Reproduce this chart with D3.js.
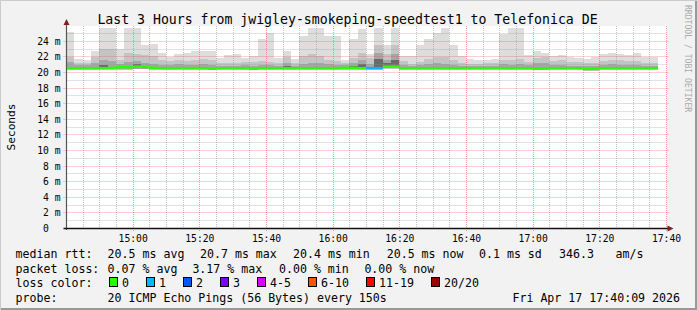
<!DOCTYPE html>
<html>
<head>
<meta charset="utf-8">
<script src="https://cdn.jsdelivr.net/npm/d3@7"></script>
<style>
  body { margin: 0; background: #f2f2f2; }
  svg { display: block; }
  text { font-family: "DejaVu Sans Mono", monospace; white-space: pre; fill: #000; }
</style>
</head>
<body>
<svg id="chart"></svg>
<script>
// smoke bands per 150s step (values in ms)
const maxV = [25.1,21.7,21.5,22.7,25.7,25.7,23.0,25.7,25.7,23.5,
  23.6,22.5,21.9,22.3,22.5,22.7,22.7,22.7,21.8,22.2,
  22.3,21.8,22.0,24.2,25.0,21.8,22.7,21.7,24.6,25.6,
  25.6,24.6,24.6,21.6,24.2,25.5,22.3,25.7,23.5,25.7,
  22.0,22.1,23.4,24.2,25.0,25.7,23.4,22.1,21.7,21.6,
  21.6,21.7,24.9,25.7,25.6,22.2,22.7,22.5,22.0,22.2,
  21.9,21.8,21.7,21.9,22.3,22.5,22.3,22.2,22.5,21.9,21.9];
const upV = [21.9,21.2,21.2,21.9,23.0,22.9,21.6,22.5,22.3,22.2,
  22.0,21.5,21.4,21.6,21.4,21.6,21.7,21.5,21.2,21.1,
  21.2,21.3,21.3,21.4,21.3,21.2,21.9,21.2,22.0,22.3,
  22.0,21.6,21.4,21.2,21.8,22.4,21.8,23.5,22.3,23.4,
  21.4,21.0,21.3,21.7,21.9,21.9,21.5,21.2,21.0,21.0,
  21.2,21.2,21.6,21.5,21.7,21.3,21.8,21.9,21.4,21.5,
  21.3,21.3,21.2,21.2,21.4,21.6,21.5,21.4,21.4,21.2,21.2];
const midV = [21.3,20.9,20.9,21.1,21.6,21.4,21.0,21.3,21.4,21.2,
  21.0,20.9,20.9,21.0,20.9,20.9,21.0,20.9,20.8,20.8,
  20.8,20.9,20.8,20.9,20.9,20.8,21.1,20.8,21.0,21.2,
  21.1,21.0,20.9,20.9,21.2,21.6,21.0,22.4,21.5,22.3,
  20.9,20.8,20.9,21.0,21.1,21.0,20.9,20.8,20.8,20.8,
  20.8,20.8,21.0,20.9,21.0,20.9,21.1,21.2,20.9,20.9,
  20.8,20.8,20.8,20.8,20.9,21.0,20.9,20.9,20.9,20.8,20.8];
const coreV = [0,0,0,0,20.9,0,0,0,21.0,0,
  0,0,0,0,0,0,0,0,0,0,
  0,0,0,0,0,0,20.8,0,0,0,
  0,0,0,0,20.8,21.0,0,21.7,21.1,21.6,
  0,0,0,0,0,0,0,0,0,0,
  0,0,0,0,0,0,0,0,0,0,
  0,0,0,0,0,0,0,0,0,0,0];
const medV = [20.5,20.5,20.5,20.5,20.5,20.55,20.6,20.6,20.7,20.65,
  20.55,20.5,20.5,20.5,20.5,20.5,20.5,20.45,20.5,20.5,
  20.5,20.5,20.45,20.5,20.5,20.5,20.5,20.5,20.5,20.5,
  20.5,20.5,20.5,20.55,20.55,20.5,20.5,20.5,20.7,20.7,
  20.5,20.5,20.5,20.5,20.5,20.5,20.5,20.5,20.5,20.5,
  20.5,20.5,20.5,20.5,20.5,20.5,20.45,20.45,20.5,20.5,
  20.5,20.5,20.4,20.4,20.5,20.5,20.5,20.5,20.5,20.5,20.5];
const minV = [20.25,20.25,20.25,20.25,20.25,20.25,20.3,20.3,20.35,20.35,
  20.25,20.25,20.25,20.25,20.25,20.25,20.25,20.2,20.25,20.25,
  20.25,20.25,20.2,20.25,20.25,20.25,20.25,20.25,20.25,20.25,
  20.25,20.25,20.25,20.3,20.3,20.25,20.25,20.25,20.4,20.4,
  20.25,20.25,20.25,20.25,20.25,20.25,20.25,20.25,20.25,20.25,
  20.25,20.25,20.25,20.25,20.25,20.25,20.2,20.2,20.25,20.25,
  20.25,20.25,20.15,20.15,20.25,20.25,20.25,20.25,20.25,20.25,20.25];
// pings lost (of 20) per step
const lossV = [0,0,0,0,0,0,0,0,0,0, 0,0,0,0,0,0,0,0,0,0,
  0,0,0,0,0,0,0,0,0,0, 0,0,0,0,0,0,1,1,0,0,
  0,0,0,0,0,0,0,0,0,0, 0,0,0,0,0,0,0,0,0,0,
  0,0,0,0,0,0,0,0,0,0,0];

const lossLabels = ["0", "1", "2", "3", "4-5", "6-10", "11-19", "20/20"];
const lossUpper = [0, 1, 2, 3, 5, 10, 19, 20];
const lossColors = ["#26ff00", "#00b8ff", "#0059ff", "#7e00ff", "#dd00ff", "#ff5500", "#ff0000", "#a10000"];

const rttStats = ["median rtt:", "20.5 ms avg", "20.7 ms max", "20.4 ms min", "20.5 ms now", "0.1 ms sd", "346.3", "am/s"];
const lossStats = ["packet loss:", "0.07 % avg", "3.17 % max", "0.00 % min", "0.00 % now"];
const probeText = ["probe:", "20 ICMP Echo Pings (56 Bytes) every 150s"];
const stampText = "Fri Apr 17 17:40:09 2026";
const titleText = "Last 3 Hours from jwigley-smokeping-speedtest1 to Telefonica DE";

const W = 697, H = 310;
const margin = {top: 26, left: 66.5, right: 30.5, bottom: 82};
const tStart = new Date(2026, 3, 17, 14, 40, 9);
const tEnd = new Date(2026, 3, 17, 17, 40, 9);
const firstStep = new Date(2026, 3, 17, 14, 40, 0);
const step = 150; // seconds

const svg = d3.select("#chart").attr("width", W).attr("height", H);

// frame
svg.append("rect").attr("width", W).attr("height", H).attr("fill", "#f2f2f2");
svg.append("path").attr("d", `M0.5,${H} V0.5 H${W}`).attr("stroke", "#cbcbcb").attr("fill", "none");
svg.append("path").attr("d", `M1,${H - 1} H${W - 1} V1`).attr("stroke", "#999").attr("stroke-width", 2).attr("fill", "none");

const x = d3.scaleTime().domain([tStart, tEnd]).range([margin.left, W - margin.right]);
const y = d3.scaleLinear().domain([0, 25.9]).range([H - margin.bottom, margin.top]);

svg.append("rect")
  .attr("x", x.range()[0]).attr("y", y.range()[1])
  .attr("width", x.range()[1] - x.range()[0]).attr("height", y.range()[0] - y.range()[1])
  .attr("fill", "#fff");

const cols = maxV.map((m, i) => {
  const t0 = new Date(+firstStep + i * step * 1000);
  const t1 = new Date(+t0 + step * 1000);
  return {x0: Math.max(x(t0), x.range()[0]), x1: x(t1), max: m, up: upV[i], mid: midV[i],
    core: coreV[i], med: medV[i], min: minV[i], loss: lossV[i]};
});

const plot = svg.append("g");
function band(lo, hi, color) {
  plot.append("g").selectAll("rect")
    .data(cols.filter(d => hi(d) > lo(d)))
    .join("rect")
    .attr("x", d => d.x0)
    .attr("width", d => d.x1 - d.x0)
    .attr("y", d => y(hi(d)))
    .attr("height", d => y(lo(d)) - y(hi(d)))
    .attr("fill", color)
    .attr("shape-rendering", "crispEdges");
}
band(d => d.min, d => d.max, "#dddddd");
band(d => d.min, d => d.up, "#c4c4c4");
band(d => d.min + 0.1, d => d.mid, "#a6a6a6");
band(d => d.med, d => d.core, "#6a6a6a");

// grid
const grid = svg.append("g");
const minorT = d3.timeMinute.every(5).range(tStart, tEnd).filter(t => t.getMinutes() % 20 !== 0);
const majorT = d3.timeMinute.every(20).range(tStart, d3.timeSecond.offset(tEnd, 1));
grid.selectAll(".xmin").data(minorT).join("line")
  .attr("x1", d => Math.round(x(d)) + 0.5).attr("x2", d => Math.round(x(d)) + 0.5)
  .attr("y1", y.range()[1]).attr("y2", y.range()[0])
  .attr("stroke", "rgba(150,150,150,0.55)").attr("stroke-dasharray", "1,1");
const minorY = d3.range(1, 26, 1).filter(v => v % 2 !== 0);
grid.selectAll(".ymin").data(minorY).join("line")
  .attr("x1", x.range()[0]).attr("x2", x.range()[1])
  .attr("y1", d => Math.round(y(d)) + 0.5).attr("y2", d => Math.round(y(d)) + 0.5)
  .attr("stroke", "rgba(150,150,150,0.55)").attr("stroke-dasharray", "1,1");
grid.selectAll(".xmaj").data(majorT).join("line")
  .attr("x1", d => Math.round(x(d)) + 0.5).attr("x2", d => Math.round(x(d)) + 0.5)
  .attr("y1", y.range()[1]).attr("y2", y.range()[0] + 3)
  .attr("stroke", "rgba(235,70,70,0.5)").attr("stroke-dasharray", "1,1");
const majorY = d3.range(2, 25, 2);
grid.selectAll(".ymaj").data(majorY).join("line")
  .attr("x1", x.range()[0] - 3).attr("x2", x.range()[1] + 2)
  .attr("y1", d => Math.round(y(d)) + 0.5).attr("y2", d => Math.round(y(d)) + 0.5)
  .attr("stroke", "rgba(235,70,70,0.5)").attr("stroke-dasharray", "1,1");

// median line coloured by loss
const lossColor = l => lossColors[lossUpper.findIndex(u => l <= u)];
svg.append("g").selectAll("rect").data(cols).join("rect")
  .attr("x", d => d.x0).attr("width", d => d.x1 - d.x0)
  .attr("y", d => y(d.med) - 1.2).attr("height", 2.4)
  .attr("fill", d => lossColor(d.loss));

// axes
const xAxis = d3.axisBottom(x).tickValues(majorT).tickFormat(d3.timeFormat("%H:%M")).tickSize(0).tickPadding(8);
const xg = svg.append("g").attr("transform", `translate(0,${y.range()[0]})`).call(xAxis);
xg.select(".domain").remove();
xg.selectAll("text").attr("font-size", 9.7).attr("font-family", "DejaVu Sans Mono").attr("dy", "0.6em");

const yAxis = d3.axisLeft(y).tickValues(d3.range(0, 25, 2)).tickFormat(v => v === 0 ? "0  " : `${v} m`).tickSize(0).tickPadding(6);
const yg = svg.append("g").attr("transform", `translate(${x.range()[0]},0)`).call(yAxis);
yg.select(".domain").remove();
yg.selectAll("text").attr("font-size", 9.7).attr("font-family", "DejaVu Sans Mono").attr("dy", "0.35em");

svg.append("line").attr("x1", x.range()[0]).attr("x2", x.range()[0])
  .attr("y1", y.range()[0] + 2).attr("y2", y.range()[1] - 4).attr("stroke", "#555").attr("stroke-width", 1.2);
svg.append("line").attr("x1", x.range()[0] - 3).attr("x2", x.range()[1] + 2)
  .attr("y1", y.range()[0] + 0.5).attr("y2", y.range()[0] + 0.5).attr("stroke", "#111").attr("stroke-width", 1.5);
const ax0 = x.range()[0], ay0 = y.range()[1], ax1 = x.range()[1], ay1 = y.range()[0] + 0.5;
svg.append("path").attr("d", `M${ax0 - 3},${ay0 - 1} L${ax0 + 3},${ay0 - 1} L${ax0},${ay0 - 7} Z`).attr("fill", "#7f1f1f");
svg.append("path").attr("d", `M${ax1 + 1},${ay1 - 3} L${ax1 + 1},${ay1 + 3} L${ax1 + 7},${ay1} Z`).attr("fill", "#7f1f1f");

// titles
svg.append("text").attr("x", 347.5).attr("y", 24).attr("text-anchor", "middle")
  .attr("font-size", 13.2).text(titleText);
svg.append("text").attr("transform", `translate(15,${(y.range()[0] + y.range()[1]) / 2}) rotate(-90)`)
  .attr("text-anchor", "middle").attr("font-size", 11.2).text("Seconds");
svg.append("text").attr("transform", "translate(685,5) rotate(90)")
  .attr("font-size", 8.1).style("fill", "#aaa").text("RRDTOOL / TOBI OETIKER");

// legend
const legend = svg.append("g").attr("font-size", 11.6);
const rttX = [15.6, 107.6, 200, 293, 386.7, 479, 559, 615.6];
const lossX = [15.6, 107.6, 192.4, 279, 364.4];
legend.selectAll(".rtt").data(rttStats).join("text")
  .attr("x", (d, i) => rttX[i]).attr("y", 258).text(d => d);
legend.selectAll(".pl").data(lossStats).join("text")
  .attr("x", (d, i) => lossX[i]).attr("y", 272.5).text(d => d);
legend.append("text").attr("x", 15.6).attr("y", 287).text("loss color:");
let cursor = 109;
lossLabels.forEach((lab, i) => {
  legend.append("rect").attr("x", cursor + 0.5).attr("y", 277.5).attr("width", 8).attr("height", 9)
    .attr("fill", lossColors[i]).attr("stroke", "#000");
  legend.append("text").attr("x", cursor + 13).attr("y", 287).text(lab);
  cursor = cursor + 13 + lab.length * 7 + 17;
});
legend.append("text").attr("x", 15.6).attr("y", 301.5).text(probeText[0]);
legend.append("text").attr("x", 107.6).attr("y", 301.5).text(probeText[1]);
legend.append("text").attr("x", 680).attr("y", 301.5).attr("text-anchor", "end").text(stampText);
</script>
</body>
</html>
